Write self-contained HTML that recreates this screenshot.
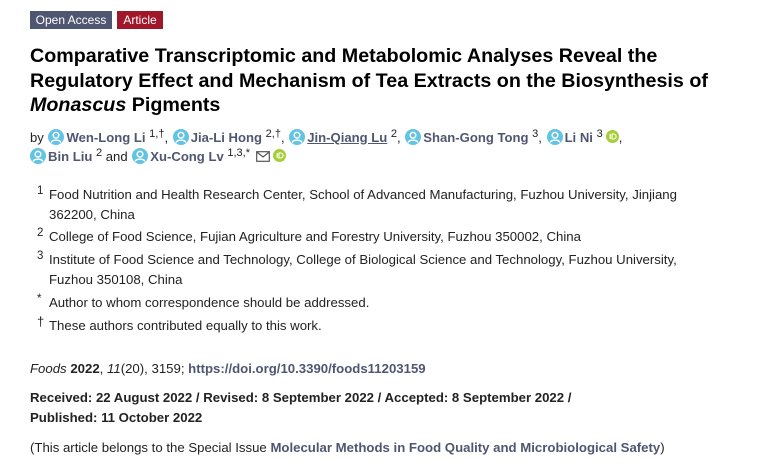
<!DOCTYPE html>
<html><head><meta charset="utf-8">
<style>
html,body{margin:0;padding:0;background:#fff;}
body{width:765px;height:465px;position:relative;overflow:hidden;font-family:"Liberation Sans",Arial,sans-serif;color:#222;}
.badge{position:absolute;top:11px;height:18px;line-height:18px;font-size:12px;color:#fff;text-align:center;}
.t{position:absolute;left:30px;font-size:19.7px;line-height:25px;font-weight:bold;color:#000;white-space:nowrap;}
.au{position:absolute;left:30px;font-size:13.1px;line-height:20px;white-space:nowrap;color:#222;}
.au b{color:#4f5671;}
.au sup{font-size:11px;vertical-align:0;position:relative;top:-5px;color:#222;}
.ic{display:inline-block;width:16px;height:16px;vertical-align:-3px;margin:0 2px 0 1px;}
.oc{display:inline-block;width:13px;height:13px;vertical-align:-1px;margin-left:3px;}
.af{position:absolute;font-size:13.2px;line-height:20px;white-space:nowrap;color:#222;}
.num{position:absolute;left:37px;font-size:11.5px;line-height:20px;color:#222;}
.x{position:absolute;left:30px;font-size:13.2px;line-height:20px;white-space:nowrap;color:#222;}
.lk{color:#4f5671;font-weight:bold;}
</style></head><body>

<div class="badge" style="left:30px;width:82px;background:#4f5671;">Open Access</div>
<div class="badge" style="left:117px;width:46px;background:#a0172a;">Article</div>

<div class="t" style="top:44px;">Comparative Transcriptomic and Metabolomic Analyses Reveal the</div>
<div class="t" style="top:68.5px;">Regulatory Effect and Mechanism of Tea Extracts on the Biosynthesis of</div>
<div class="t" style="top:93px;"><i>Monascus</i> Pigments</div>

<svg width="0" height="0" style="position:absolute">
<defs>
<symbol id="p" viewBox="0 0 16 16"><circle cx="8" cy="8" r="8" fill="#62c3e2"/><circle cx="8" cy="6.2" r="2.8" fill="none" stroke="#fff" stroke-width="1.5"/><path d="M3.2 13.6 C4 10.3 12 10.3 12.8 13.6" fill="none" stroke="#fff" stroke-width="1.5"/></symbol>
<symbol id="o" viewBox="0 0 13 13"><circle cx="6.5" cy="6.5" r="6.5" fill="#a6ce39"/><rect x="3.6" y="4" width="1.2" height="5" fill="#fff"/><path d="M6 4 h1.6 a2.5 2.5 0 0 1 0 5 H6z" fill="none" stroke="#fff" stroke-width="1.1"/></symbol>
</defs></svg>

<div class="au" style="top:127.5px;">by <svg class="ic"><use href="#p"/></svg><b>Wen-Long Li</b> <sup>1,†</sup>, <svg class="ic"><use href="#p"/></svg><b>Jia-Li Hong</b> <sup>2,†</sup>, <svg class="ic"><use href="#p"/></svg><b style="text-decoration:underline;">Jin-Qiang Lu</b> <sup>2</sup>, <svg class="ic"><use href="#p"/></svg><b>Shan-Gong Tong</b> <sup>3</sup>, <svg class="ic"><use href="#p"/></svg><b>Li Ni</b> <sup>3</sup><svg class="oc"><use href="#o"/></svg>,</div>
<div class="au" style="top:146.5px;"><svg class="ic" style="margin-left:0"><use href="#p"/></svg><b>Bin Liu</b> <sup>2</sup> and <svg class="ic"><use href="#p"/></svg><b>Xu-Cong Lv</b> <sup>1,3,*</sup> <svg width="14" height="11" style="vertical-align:-1px;margin-left:2px"><rect x="0.7" y="0.7" width="12.6" height="9.6" fill="none" stroke="#555" stroke-width="1.2"/><path d="M0.7 0.9 L7 6 L13.3 0.9" fill="none" stroke="#555" stroke-width="1.2"/></svg><svg class="oc"><use href="#o"/></svg></div>

<div class="num" style="top:181px;">1</div>
<div class="af" style="left:49px;top:185px;">Food Nutrition and Health Research Center, School of Advanced Manufacturing, Fuzhou University, Jinjiang</div>
<div class="af" style="left:49px;top:205px;">362200, China</div>
<div class="num" style="top:223px;">2</div>
<div class="af" style="left:49px;top:227px;">College of Food Science, Fujian Agriculture and Forestry University, Fuzhou 350002, China</div>
<div class="num" style="top:246px;">3</div>
<div class="af" style="left:49px;top:250px;">Institute of Food Science and Technology, College of Biological Science and Technology, Fuzhou University,</div>
<div class="af" style="left:49px;top:270px;">Fuzhou 350108, China</div>
<div class="num" style="top:289px;">*</div>
<div class="af" style="left:49px;top:293px;">Author to whom correspondence should be addressed.</div>
<div class="num" style="top:312px;font-size:13px;">†</div>
<div class="af" style="left:49px;top:316px;">These authors contributed equally to this work.</div>

<div class="x" style="top:359px;"><i>Foods</i> <b>2022</b>, <i>11</i>(20), 3159; <span class="lk">https://doi.org/10.3390/foods11203159</span></div>
<div class="x" style="top:388px;font-weight:bold;">Received: 22 August 2022 / Revised: 8 September 2022 / Accepted: 8 September 2022 /</div>
<div class="x" style="top:408px;font-weight:bold;">Published: 11 October 2022</div>
<div class="x" style="top:438px;">(This article belongs to the Special Issue <span class="lk">Molecular Methods in Food Quality and Microbiological Safety</span>)</div>

</body></html>
